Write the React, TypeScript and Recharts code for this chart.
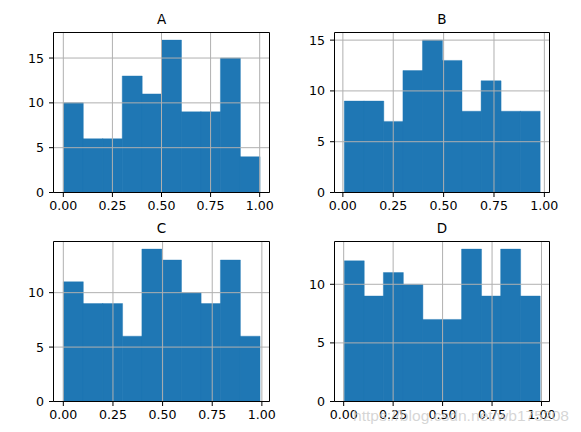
import React from 'react';
import { ComposedChart, Bar, XAxis, YAxis, ReferenceLine } from 'recharts';

// ---- data ----
const panelNames = ['A', 'B', 'C', 'D'];
const countsA = [10, 6, 6, 13, 11, 17, 9, 9, 15, 4];
const countsB = [9, 9, 7, 12, 15, 13, 8, 11, 8, 8];
const countsC = [11, 9, 9, 6, 14, 13, 10, 9, 13, 6];
const countsD = [12, 9, 11, 10, 7, 7, 13, 9, 13, 9];
const dataMinA = 0.0;
const dataMaxA = 1.0;
const dataMinB = 0.007;
const dataMaxB = 0.977;
const dataMinC = 0.0;
const dataMaxC = 0.989;
const dataMinD = 0.003;
const dataMaxD = 0.991;
const xTicks = [0, 0.25, 0.5, 0.75, 1.0];
const yTicksA = [0, 5, 10, 15];
const yTicksB = [0, 5, 10, 15];
const yTicksC = [0, 5, 10];
const yTicksD = [0, 5, 10];
const watermarkText = 'https://blog.csdn.net/wb175208';

const BAR_COLOR = '#1f77b4';
const GRID_COLOR = '#b0b0b0';
const FONT = '"DejaVu Sans", sans-serif';

function buildBins(counts: number[], lo: number, hi: number) {
  const w = (hi - lo) / counts.length;
  return counts.map((c, i) => ({ center: lo + (i + 0.5) * w, count: c }));
}

type Box = { x0: number; x1: number; y0: number; y1: number };

type PanelProps = {
  title: string;
  counts: number[];
  lo: number;
  hi: number;
  yTicks: number[];
  left: number;
  top: number;
  width: number;
  height: number;
  plot: Box; // plot area inside this panel (px)
};

const Y_AXIS_W = 40;
const X_AXIS_H = 22;
const TOP_AXIS_H = 20;
const RIGHT_AXIS_W = 8;

function Panel({ title, counts, lo, hi, yTicks, left, top, width, height, plot }: PanelProps) {
  const data = buildBins(counts, lo, hi);
  const r = hi - lo;
  const xDomain: [number, number] = [lo - 0.05 * r, hi + 0.05 * r];
  const yMax = Math.max(...counts) * 1.05;
  const tickStyle = { fill: '#000', fontSize: 12.6, fontFamily: FONT };
  const margin = {
    left: plot.x0 - Y_AXIS_W,
    right: width - plot.x1 - RIGHT_AXIS_W,
    top: plot.y0 - TOP_AXIS_H,
    bottom: height - plot.y1 - X_AXIS_H,
  };
  return (
    <div style={{ position: 'absolute', left, top, width, height }}>
      <ComposedChart width={width} height={height} data={data} margin={margin} barCategoryGap={0} barGap={0}>
        <XAxis
          xAxisId="main"
          dataKey="center"
          type="number"
          domain={xDomain}
          allowDataOverflow
          ticks={xTicks}
          interval={0}
          height={X_AXIS_H}
          tickSize={4.5}
          tickMargin={4.5}
          tickFormatter={(v: number) => v.toFixed(2)}
          tick={tickStyle}
          axisLine={{ stroke: '#000', strokeWidth: 1 }}
          tickLine={{ stroke: '#000', strokeWidth: 1 }}
        />
        <XAxis
          xAxisId="top"
          orientation="top"
          type="number"
          domain={xDomain}
          allowDataOverflow
          ticks={xTicks}
          height={TOP_AXIS_H}
          tick={false}
          tickLine={false}
          axisLine={{ stroke: '#000', strokeWidth: 1 }}
          label={{
            value: title,
            position: 'insideBottom',
            offset: 9,
            style: { fill: '#000', fontSize: 13.5, fontFamily: FONT },
          }}
        />
        <YAxis
          yAxisId="main"
          type="number"
          domain={[0, yMax]}
          allowDataOverflow
          ticks={yTicks}
          interval={0}
          width={Y_AXIS_W}
          tickSize={4.5}
          tickMargin={5}
          tick={tickStyle}
          axisLine={{ stroke: '#000', strokeWidth: 1 }}
          tickLine={{ stroke: '#000', strokeWidth: 1 }}
        />
        <YAxis
          yAxisId="right"
          orientation="right"
          type="number"
          domain={[0, yMax]}
          allowDataOverflow
          ticks={yTicks}
          width={RIGHT_AXIS_W}
          tick={false}
          tickLine={false}
          axisLine={{ stroke: '#000', strokeWidth: 1 }}
        />
        <Bar
          xAxisId="main"
          yAxisId="main"
          dataKey="count"
          fill={BAR_COLOR}
          stroke={BAR_COLOR}
          strokeWidth={0.4}
          isAnimationActive={false}
        />
        {xTicks.map((t) => (
          <ReferenceLine
            key={'vx' + t}
            xAxisId="main"
            yAxisId="main"
            x={t}
            stroke={GRID_COLOR}
            strokeWidth={1}
          />
        ))}
        {yTicks.map((t) => (
          <ReferenceLine
            key={'hy' + t}
            xAxisId="main"
            yAxisId="main"
            y={t}
            stroke={GRID_COLOR}
            strokeWidth={1}
          />
        ))}
      </ComposedChart>
    </div>
  );
}

export default function App() {
  return (
    <div
      style={{
        position: 'absolute',
        left: 0,
        top: 0,
        width: 581,
        height: 432,
        background: '#fff',
        overflow: 'hidden',
      }}
    >
      <Panel
        title={panelNames[0]}
        counts={countsA}
        lo={dataMinA}
        hi={dataMaxA}
        yTicks={yTicksA}
        left={0}
        top={0}
        width={290}
        height={216}
        plot={{ x0: 53.5, x1: 269.5, y0: 32.5, y1: 192.5 }}
      />
      <Panel
        title={panelNames[1]}
        counts={countsB}
        lo={dataMinB}
        hi={dataMaxB}
        yTicks={yTicksB}
        left={290}
        top={0}
        width={291}
        height={216}
        plot={{ x0: 44.5, x1: 259.5, y0: 32.5, y1: 192.5 }}
      />
      <Panel
        title={panelNames[2]}
        counts={countsC}
        lo={dataMinC}
        hi={dataMaxC}
        yTicks={yTicksC}
        left={0}
        top={216}
        width={290}
        height={216}
        plot={{ x0: 53.5, x1: 269.5, y0: 25.5, y1: 185.5 }}
      />
      <Panel
        title={panelNames[3]}
        counts={countsD}
        lo={dataMinD}
        hi={dataMaxD}
        yTicks={yTicksD}
        left={290}
        top={216}
        width={291}
        height={216}
        plot={{ x0: 44.5, x1: 259.5, y0: 25.5, y1: 185.5 }}
      />
      <svg width={581} height={432} style={{ position: 'absolute', left: 0, top: 0, pointerEvents: 'none' }}>
        <text
          x={353}
          y={420.5}
          fontSize={15.5}
          fontFamily='"Liberation Sans", Arial, sans-serif'
          textLength={216}
          lengthAdjust="spacingAndGlyphs"
          fill="#c8c8c8"
          fillOpacity={0.75}
        >
          {watermarkText}
        </text>
      </svg>
    </div>
  );
}
